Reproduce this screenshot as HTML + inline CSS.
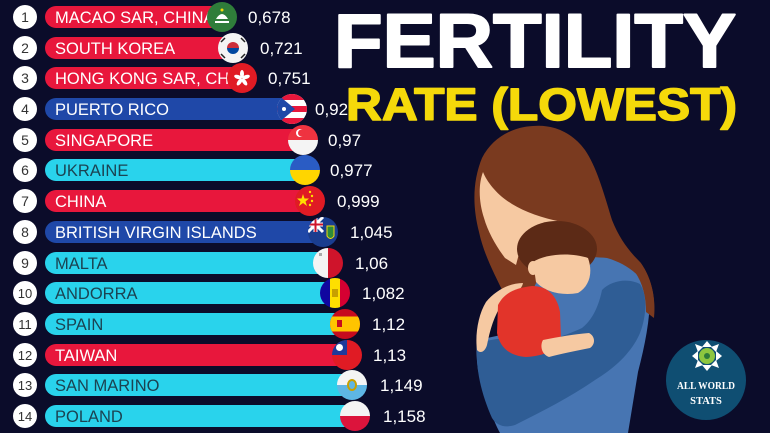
<!DOCTYPE html>
<html><head><meta charset="utf-8"><style>
html,body{margin:0;padding:0;background:#0b0c2a;}
svg{display:block;}
</style></head><body>
<svg width="770" height="433" viewBox="0 0 770 433" xmlns="http://www.w3.org/2000/svg">
<defs>
<clipPath id="fc"><circle cx="0" cy="0" r="15"/></clipPath>
</defs>
<rect width="770" height="433" fill="#0b0c2a"/>

<!-- Illustration -->
<g>
  <!-- mother hair -->
  <path d="M533,126 C552,124 572,132 585,150 C596,166 603,190 612,220 C620,240 630,252 640,262 C650,275 656,295 654,315 L600,300 L503,292 C495,275 484,255 479,232 C472,205 473,180 482,158 C492,138 512,127 533,126 Z" fill="#7a3a1f"/>
  <!-- mother face -->
  <path d="M483,172 C487,182 497,195 512,204 C525,212 542,218 562,222 L560,232 L530,236 L520,250 L516,265 L505,258 C496,246 488,232 484,218 C479,203 478,185 483,172 Z" fill="#f6c9a2"/>
  <!-- light blue body -->
  <path d="M545,262 C565,258 590,256 607,258 C628,264 645,278 650,295 C650,320 645,345 638,372 L628,433 L500,433 C492,418 484,395 478,370 C476,355 476,345 478,340 L515,332 Z" fill="#4775b2"/>
  <!-- hair behind right shoulder -->
  <path d="M640,262 C650,275 656,295 654,318 L646,312 C646,295 642,280 632,268 Z" fill="#7a3a1f"/>
  <!-- dark blue arm -->
  <path d="M477,345 C490,338 510,336 530,343 C545,342 565,336 582,328 C595,318 600,300 602,290 C612,280 628,278 640,284 C648,296 646,318 640,333 C632,352 615,368 595,380 C572,396 545,410 515,425 C505,428 497,426 492,418 C484,400 478,380 477,360 Z" fill="#2f5d95"/>
  <!-- child hair -->
  <ellipse cx="557" cy="249" rx="40" ry="28" fill="#5c2a16"/>
  <!-- child face -->
  <path d="M533,262 C545,254 570,252 588,258 C593,272 590,286 578,293 C562,296 545,292 536,282 Z" fill="#f6c9a2"/>
  <ellipse cx="533" cy="268" rx="5" ry="7" fill="#f6c9a2"/>
  <!-- mother hand -->
  <path d="M523,283 C522,290 512,296 503,303 C494,315 490,330 487,345 C485,352 480,354 477,350 C475,335 478,315 486,302 C496,290 510,283 523,283 Z" fill="#f6c9a2"/>
  <!-- red shirt -->
  <path d="M498,305 C504,293 515,288 532,286 C548,286 557,296 560,312 L561,338 C556,350 545,356 526,357 C510,356 500,348 497,333 Z" fill="#e2342a"/>
  <!-- child arm -->
  <path d="M543,340 C558,337 575,334 589,333 C595,336 596,344 590,348 C575,351 560,354 549,357 C541,354 540,345 543,340 Z" fill="#f6c9a2"/>
</g>

<!-- Logo -->
<circle cx="706" cy="380" r="40" fill="#0f4e72"/>
<g transform="translate(707,356)">
  <g fill="#ffffff">
    <path d="M0,-15 L5,-9 L-5,-9 Z"/>
    <path d="M0,15 L5,9 L-5,9 Z"/>
    <path d="M-15,0 L-9,5 L-9,-5 Z"/>
    <path d="M15,0 L9,5 L9,-5 Z"/>
    <path d="M-12,-12 L-4,-9 L-9,-4 Z"/>
    <path d="M12,-12 L4,-9 L9,-4 Z"/>
    <path d="M-12,12 L-4,9 L-9,4 Z"/>
    <path d="M12,12 L4,9 L9,4 Z"/>
  </g>
  <circle r="8" fill="#8dc63f"/>
  <circle r="3" fill="#2d7a3a"/>
</g>
<text x="706" y="389" text-anchor="middle" font-family="Liberation Serif, serif" font-weight="bold" font-size="10.5" fill="#ffffff" textLength="58" lengthAdjust="spacingAndGlyphs">ALL WORLD</text>
<text x="706" y="404" text-anchor="middle" font-family="Liberation Serif, serif" font-weight="bold" font-size="10.5" fill="#ffffff">STATS</text>

<!-- Rows -->
<g font-family="Liberation Sans, sans-serif">
<!-- 1 -->
<circle cx="25" cy="17" r="12" fill="#fff"/><text x="25" y="22" text-anchor="middle" font-size="14" fill="#333">1</text>
<rect x="45" y="6" width="177" height="22" rx="11" fill="#e8173c"/>
<text x="55" y="23" font-size="16.5" fill="#fff">MACAO SAR, CHINA</text>
<g transform="translate(222,17)"><g clip-path="url(#fc)"><rect x="-15" y="-15" width="30" height="30" fill="#2f7d3a"/><path d="M-6,2 Q0,-8 6,2 Z M-7,4 H7 V6 H-7 Z" fill="#fff"/><circle cx="0" cy="-7" r="1.5" fill="#f5d90a"/></g></g>
<text x="248" y="23" font-size="17" fill="#fff">0,678</text>

<!-- 2 -->
<circle cx="25" cy="48" r="12" fill="#fff"/><text x="25" y="53" text-anchor="middle" font-size="14" fill="#333">2</text>
<rect x="45" y="37" width="188" height="22" rx="11" fill="#e8173c"/>
<text x="55" y="54" font-size="16.5" fill="#fff">SOUTH KOREA</text>
<g transform="translate(233,48)"><g clip-path="url(#fc)"><rect x="-15" y="-15" width="30" height="30" fill="#f4f4f4"/><path d="M-6,0 A6,6 0 0 1 6,0 Z" fill="#cd2e3a"/><path d="M-6,0 A6,6 0 0 0 6,0 Z" fill="#0047a0"/><g stroke="#222" stroke-width="1.5"><line x1="-12" y1="-6" x2="-8" y2="-10"/><line x1="8" y1="-10" x2="12" y2="-6"/><line x1="-12" y1="6" x2="-8" y2="10"/><line x1="8" y1="10" x2="12" y2="6"/></g></g></g>
<text x="260" y="54" font-size="17" fill="#fff">0,721</text>

<!-- 3 -->
<circle cx="25" cy="78" r="12" fill="#fff"/><text x="25" y="83" text-anchor="middle" font-size="14" fill="#333">3</text>
<clipPath id="b3"><rect x="45" y="67" width="188" height="22"/></clipPath>
<rect x="45" y="67" width="197" height="22" rx="11" fill="#e8173c"/>
<text x="55" y="84" font-size="16.5" fill="#fff" clip-path="url(#b3)">HONG KONG SAR, CHINA</text>
<g transform="translate(242,78)"><g clip-path="url(#fc)"><rect x="-15" y="-15" width="30" height="30" fill="#e01b24"/><g fill="#fff"><ellipse cx="0" cy="-4" rx="2" ry="4"/><ellipse cx="4" cy="-1" rx="2" ry="4" transform="rotate(72 4 -1)"/><ellipse cx="2.5" cy="4" rx="2" ry="4" transform="rotate(144 2.5 4)"/><ellipse cx="-2.5" cy="4" rx="2" ry="4" transform="rotate(216 -2.5 4)"/><ellipse cx="-4" cy="-1" rx="2" ry="4" transform="rotate(288 -4 -1)"/></g></g></g>
<text x="268" y="84" font-size="17" fill="#fff">0,751</text>

<!-- 4 -->
<circle cx="25" cy="109" r="12" fill="#fff"/><text x="25" y="114" text-anchor="middle" font-size="14" fill="#333">4</text>
<rect x="45" y="98" width="247" height="22" rx="11" fill="#1f48a8"/>
<text x="55" y="115" font-size="16.5" fill="#fff">PUERTO RICO</text>
<g transform="translate(292,109)"><g clip-path="url(#fc)"><rect x="-15" y="-15" width="30" height="30" fill="#fff"/><rect x="-15" y="-15" width="30" height="6" fill="#e8173c"/><rect x="-15" y="-3" width="30" height="6" fill="#e8173c"/><rect x="-15" y="9" width="30" height="6" fill="#e8173c"/><path d="M-15,-15 L3,0 L-15,15 Z" fill="#1f48a8"/><circle cx="-8" cy="0" r="2" fill="#fff"/></g></g>
<text x="315" y="115" font-size="17" fill="#fff">0,92</text>

<!-- 5 -->
<circle cx="25" cy="140" r="12" fill="#fff"/><text x="25" y="145" text-anchor="middle" font-size="14" fill="#333">5</text>
<rect x="45" y="129" width="258" height="22" rx="11" fill="#e8173c"/>
<text x="55" y="146" font-size="16.5" fill="#fff">SINGAPORE</text>
<g transform="translate(303,140)"><g clip-path="url(#fc)"><rect x="-15" y="-15" width="30" height="15" fill="#ef3340"/><rect x="-15" y="0" width="30" height="15" fill="#f4f4f4"/><circle cx="-3" cy="-7" r="4" fill="#fff"/><circle cx="-1.5" cy="-7" r="3.5" fill="#ef3340"/></g></g>
<text x="328" y="146" font-size="17" fill="#fff">0,97</text>

<!-- 6 -->
<circle cx="25" cy="170" r="12" fill="#fff"/><text x="25" y="175" text-anchor="middle" font-size="14" fill="#333">6</text>
<rect x="45" y="159" width="260" height="22" rx="11" fill="#29d3ec"/>
<text x="55" y="176" font-size="16.5" fill="#1b4352">UKRAINE</text>
<g transform="translate(305,170)"><g clip-path="url(#fc)"><rect x="-15" y="-15" width="30" height="15" fill="#2a5cc4"/><rect x="-15" y="0" width="30" height="15" fill="#ffd500"/></g></g>
<text x="330" y="176" font-size="17" fill="#fff">0,977</text>

<!-- 7 -->
<circle cx="25" cy="201" r="12" fill="#fff"/><text x="25" y="206" text-anchor="middle" font-size="14" fill="#333">7</text>
<rect x="45" y="190" width="265" height="22" rx="11" fill="#e8173c"/>
<text x="55" y="207" font-size="16.5" fill="#fff">CHINA</text>
<g transform="translate(310,201)"><g clip-path="url(#fc)"><rect x="-15" y="-15" width="30" height="30" fill="#e01b24"/><path d="M-7,-7 L-5.5,-2.5 L-1,-2.5 L-4.5,0.5 L-3,5 L-7,2 L-11,5 L-9.5,0.5 L-13,-2.5 L-8.5,-2.5 Z" fill="#ffde00"/><circle cx="0" cy="-9" r="1.2" fill="#ffde00"/><circle cx="2" cy="-5" r="1.2" fill="#ffde00"/><circle cx="2" cy="0" r="1.2" fill="#ffde00"/><circle cx="0" cy="4" r="1.2" fill="#ffde00"/></g></g>
<text x="337" y="207" font-size="17" fill="#fff">0,999</text>

<!-- 8 -->
<circle cx="25" cy="232" r="12" fill="#fff"/><text x="25" y="237" text-anchor="middle" font-size="14" fill="#333">8</text>
<rect x="45" y="221" width="278" height="22" rx="11" fill="#1f48a8"/>
<text x="55" y="238" font-size="16.5" fill="#fff">BRITISH VIRGIN ISLANDS</text>
<g transform="translate(323,232)"><g clip-path="url(#fc)"><rect x="-15" y="-15" width="30" height="30" fill="#1a3d8f"/><path d="M-15,-15 L0,0 M0,-15 L-15,0" stroke="#fff" stroke-width="3"/><path d="M-7.5,-15 V0 M-15,-7.5 H0" stroke="#fff" stroke-width="4"/><path d="M-7.5,-15 V0 M-15,-7.5 H0" stroke="#cf142b" stroke-width="2"/><path d="M4,-6 H11 V4 Q7.5,9 4,4 Z" fill="#2e8b3a" stroke="#f5d90a" stroke-width="1"/></g></g>
<text x="350" y="238" font-size="17" fill="#fff">1,045</text>

<!-- 9 -->
<circle cx="25" cy="263" r="12" fill="#fff"/><text x="25" y="268" text-anchor="middle" font-size="14" fill="#333">9</text>
<rect x="45" y="252" width="283" height="22" rx="11" fill="#29d3ec"/>
<text x="55" y="269" font-size="16.5" fill="#1b4352">MALTA</text>
<g transform="translate(328,263)"><g clip-path="url(#fc)"><rect x="-15" y="-15" width="15" height="30" fill="#f4f4f4"/><rect x="0" y="-15" width="15" height="30" fill="#cf142b"/><rect x="-9" y="-10" width="3" height="3" fill="#aaa"/></g></g>
<text x="355" y="269" font-size="17" fill="#fff">1,06</text>

<!-- 10 -->
<circle cx="25" cy="293" r="12" fill="#fff"/><text x="25" y="298" text-anchor="middle" font-size="13" fill="#333">10</text>
<rect x="45" y="282" width="290" height="22" rx="11" fill="#29d3ec"/>
<text x="55" y="299" font-size="16.5" fill="#1b4352">ANDORRA</text>
<g transform="translate(335,293)"><g clip-path="url(#fc)"><rect x="-15" y="-15" width="10" height="30" fill="#10069f"/><rect x="-5" y="-15" width="10" height="30" fill="#fedf00"/><rect x="5" y="-15" width="10" height="30" fill="#d50032"/><rect x="-3" y="-4" width="6" height="8" fill="#c7a000"/></g></g>
<text x="362" y="299" font-size="17" fill="#fff">1,082</text>

<!-- 11 -->
<circle cx="25" cy="324" r="12" fill="#fff"/><text x="25" y="329" text-anchor="middle" font-size="13" fill="#333">11</text>
<rect x="45" y="313" width="300" height="22" rx="11" fill="#29d3ec"/>
<text x="55" y="330" font-size="16.5" fill="#1b4352">SPAIN</text>
<g transform="translate(345,324)"><g clip-path="url(#fc)"><rect x="-15" y="-15" width="30" height="30" fill="#c60b1e"/><rect x="-15" y="-7.5" width="30" height="15" fill="#ffc400"/><rect x="-8" y="-4" width="5" height="7" fill="#c60b1e"/></g></g>
<text x="372" y="330" font-size="17" fill="#fff">1,12</text>

<!-- 12 -->
<circle cx="25" cy="355" r="12" fill="#fff"/><text x="25" y="360" text-anchor="middle" font-size="13" fill="#333">12</text>
<rect x="45" y="344" width="302" height="22" rx="11" fill="#e8173c"/>
<text x="55" y="361" font-size="16.5" fill="#fff">TAIWAN</text>
<g transform="translate(347,355)"><g clip-path="url(#fc)"><rect x="-15" y="-15" width="30" height="30" fill="#e01b24"/><rect x="-15" y="-15" width="15" height="15" fill="#1f3a9a"/><circle cx="-7.5" cy="-7.5" r="3.5" fill="#fff"/></g></g>
<text x="373" y="361" font-size="17" fill="#fff">1,13</text>

<!-- 13 -->
<circle cx="25" cy="385" r="12" fill="#fff"/><text x="25" y="390" text-anchor="middle" font-size="13" fill="#333">13</text>
<rect x="45" y="374" width="307" height="22" rx="11" fill="#29d3ec"/>
<text x="55" y="391" font-size="16.5" fill="#1b4352">SAN MARINO</text>
<g transform="translate(352,385)"><g clip-path="url(#fc)"><rect x="-15" y="-15" width="30" height="15" fill="#f4f4f4"/><rect x="-15" y="0" width="30" height="15" fill="#5eb6e4"/><ellipse cx="0" cy="0" rx="5" ry="6" fill="#c7a000"/><ellipse cx="0" cy="0" rx="3" ry="4" fill="#5eb6e4"/></g></g>
<text x="380" y="391" font-size="17" fill="#fff">1,149</text>

<!-- 14 -->
<circle cx="25" cy="416" r="12" fill="#fff"/><text x="25" y="421" text-anchor="middle" font-size="13" fill="#333">14</text>
<rect x="45" y="405" width="310" height="22" rx="11" fill="#29d3ec"/>
<text x="55" y="422" font-size="16.5" fill="#1b4352">POLAND</text>
<g transform="translate(355,416)"><g clip-path="url(#fc)"><rect x="-15" y="-15" width="30" height="15" fill="#f4f4f4"/><rect x="-15" y="0" width="30" height="15" fill="#dc143c"/></g></g>
<text x="383" y="422" font-size="17" fill="#fff">1,158</text>
</g>

<!-- Titles -->
<text x="334" y="67" font-family="Liberation Sans, sans-serif" font-weight="bold" font-size="76" fill="#ffffff" stroke="#ffffff" stroke-width="2" stroke-linejoin="round" textLength="402" lengthAdjust="spacingAndGlyphs">FERTILITY</text>
<text x="346" y="120" font-family="Liberation Sans, sans-serif" font-weight="bold" font-size="45" fill="#f5d90a" stroke="#f5d90a" stroke-width="1.5" stroke-linejoin="round" textLength="391" lengthAdjust="spacingAndGlyphs">RATE (LOWEST)</text>
</svg>
</body></html>
